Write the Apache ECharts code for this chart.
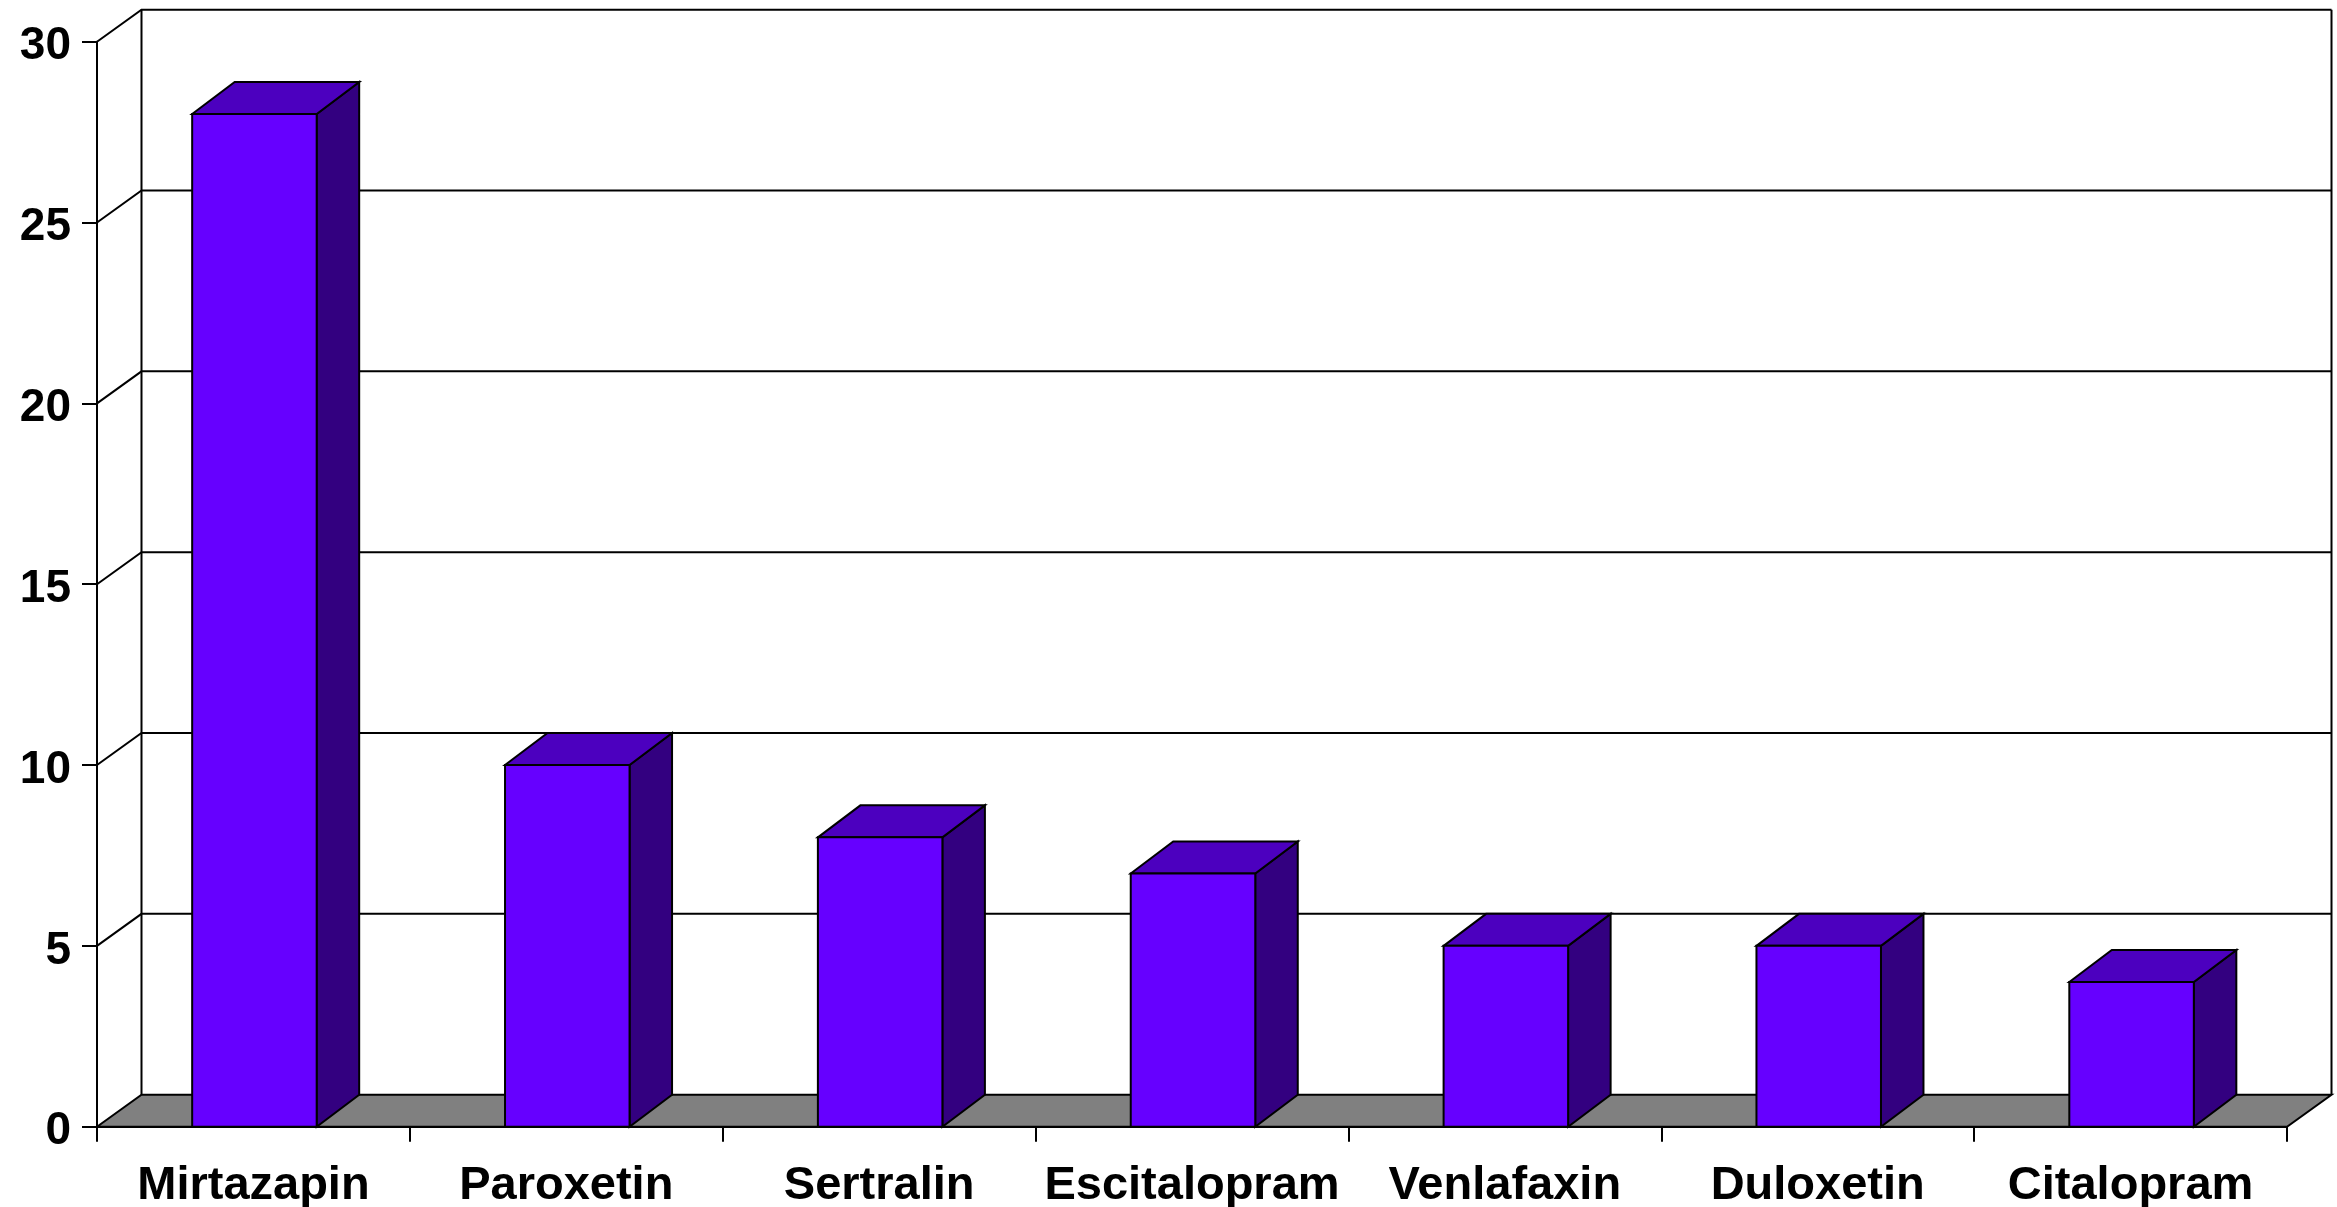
<!DOCTYPE html>
<html>
<head>
<meta charset="utf-8">
<style>html,body{margin:0;padding:0;background:#fff}#c{width:2337px;height:1207px}</style>
<script src="https://cdn.jsdelivr.net/npm/echarts@6/dist/echarts.min.js"></script>
</head>
<body>
<div id="c"></div>
<script>
var categories = ["Mirtazapin","Paroxetin","Sertralin","Escitalopram","Venlafaxin","Duloxetin","Citalopram"];
var values = [28,10,8,7,5,5,4];
var yTicks = [0,5,10,15,20,25,30];

var wallDX = 44.5, wallDY = 32, barDX = 42.5, barDY = 32, barRatio = 0.398, barShift = 1;
var lineStyle = {stroke:'#000',lineWidth:2,fill:null};
var edge = {stroke:'#000',lineWidth:2,lineJoin:'miter'};

function wallItem(params, api){
  var v = api.value(0);
  var cs = params.coordSys;
  var y = api.coord([0, v])[1];
  var x0 = cs.x, x1 = cs.x + cs.width;
  var kids = [];
  if (v === 0) {
    kids.push({type:'polygon',shape:{points:[[x0,y],[x0+wallDX,y-wallDY],[x1+wallDX,y-wallDY],[x1,y]]},
      style:Object.assign({fill:'#808080'},edge)});
  } else {
    kids.push({type:'polyline',shape:{points:[[x0,y],[x0+wallDX,y-wallDY],[x1+wallDX,y-wallDY]]},style:lineStyle});
  }
  if (v === yTicks[yTicks.length-1]) {
    var yb = cs.y + cs.height - wallDY;
    kids.push({type:'line',shape:{x1:x0+wallDX,y1:y-wallDY,x2:x0+wallDX,y2:yb},style:lineStyle});
    kids.push({type:'line',shape:{x1:x1+wallDX,y1:y-wallDY,x2:x1+wallDX,y2:yb},style:lineStyle});
  }
  return {type:'group',children:kids};
}

function barItem(params, api){
  var idx = api.value(0), v = api.value(1);
  var top = api.coord([idx, v]), base = api.coord([idx, 0]);
  var w = api.size([1,0])[0] * barRatio;
  var l = top[0]-w/2+barShift, r = top[0]+w/2+barShift, t = top[1], b = base[1];
  return {type:'group',children:[
    {type:'polygon',shape:{points:[[r,t],[r+barDX,t-barDY],[r+barDX,b-barDY],[r,b]]},style:Object.assign({fill:'#330080'},edge)},
    {type:'polygon',shape:{points:[[l,t],[l+barDX,t-barDY],[r+barDX,t-barDY],[r,t]]},style:Object.assign({fill:'#4C00BF'},edge)},
    {type:'rect',shape:{x:l,y:t,width:w,height:b-t},style:Object.assign({fill:'#6600FF'},edge)}
  ]};
}

var font = {color:'#000',fontFamily:'"Liberation Sans",Arial,sans-serif',fontWeight:'bold',fontSize:46};
var chart = echarts.init(document.getElementById('c'));
chart.setOption({
  animation:false,
  backgroundColor:'#fff',
  grid:{left:97,top:41.7,width:2190,height:1085,containLabel:false,outerBoundsMode:'none'},
  xAxis:{type:'category',data:categories,
    axisLine:{show:true,lineStyle:{color:'#000',width:2}},
    axisTick:{show:true,length:15,alignWithLabel:false,lineStyle:{color:'#000',width:2}},
    axisLabel:Object.assign({},font,{margin:36,interval:0,fontSize:47}),
    splitLine:{show:false}},
  yAxis:{type:'value',min:0,max:30,interval:5,
    axisLine:{show:true,lineStyle:{color:'#000',width:2}},
    axisTick:{show:true,length:15,lineStyle:{color:'#000',width:2}},
    axisLabel:Object.assign({margin:26,verticalAlign:'top',lineHeight:10},font),
    splitLine:{show:false}},
  series:[
    {type:'custom',name:'walls',coordinateSystem:'cartesian2d',clip:false,silent:true,z:1,
     encode:{y:0},data:yTicks.map(function(t){return [t];}),renderItem:wallItem},
    {type:'custom',name:'bars',coordinateSystem:'cartesian2d',clip:false,z:3,
     encode:{x:0,y:1},data:values.map(function(v,i){return [i,v];}),renderItem:barItem}
  ]
});
</script>
</body>
</html>
